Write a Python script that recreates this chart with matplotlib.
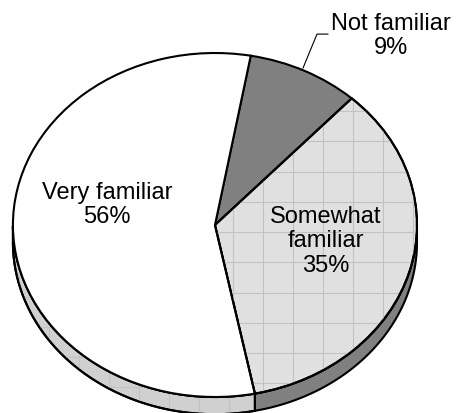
import matplotlib.pyplot as plt
from matplotlib.patches import PathPatch
import numpy as np

plt.rcParams['font.family'] = ['Liberation Sans', 'DejaVu Sans']

categories = ['Not familiar', 'Somewhat familiar', 'Very familiar']
label_text = ['Not familiar', 'Somewhat\nfamiliar', 'Very familiar']
percent = [9, 35, 56]
top_colors = ['#808080', '#e0e0e0', '#ffffff']
side_colors = ['#808080', '#808080', '#d0d0d0']

start = 79.8      # degrees, pie runs clockwise from here
depth = 0.1       # thickness of the pie edge
edge_lw = 1.5

fig = plt.figure(figsize=(4.57, 4.14), dpi=100)
ax = fig.add_axes([0, 0, 1, 1])

# side band of the disc (only the front half shows)
bounds = start - np.cumsum([0] + percent) * 3.6
side_patches = []
for i in range(len(percent)):
    th = np.radians(np.linspace(bounds[i], bounds[i + 1], 400))
    front = np.sin(th) <= 0
    if not front.any():
        side_patches.append(None)
        continue
    th = th[front]
    xs = np.cos(th)
    ys = np.sin(th)
    px = np.concatenate([xs, xs[::-1]])
    py = np.concatenate([ys, ys[::-1] - depth])
    poly = ax.fill(px, py, facecolor=side_colors[i], edgecolor='black',
                   linewidth=edge_lw, zorder=1)[0]
    side_patches.append(poly)

wedges, _ = ax.pie(percent, startangle=start, counterclock=False,
                   colors=top_colors, radius=1, center=(0, 0),
                   wedgeprops=dict(edgecolor='black', linewidth=edge_lw))
for w in wedges:
    w.set_zorder(2)

ax.set_aspect('auto')
ax.set_xlim(-1.064, 1.198)
ax.set_ylim(-1.093, 1.314)
ax.axis('off')

# light grid texture on the "somewhat" top and the "very" side
def grid_texture(patch, x0, y0):
    z = patch.get_zorder()
    gx = np.arange(x0 - 2.0, 2.0, 0.1485)
    gy = np.arange(y0 - 2.0, 2.0, 0.176)
    v = ax.vlines(gx, -2, 2, colors='#c2c2c2', linewidth=0.8, zorder=z)
    h = ax.hlines(gy, -2, 2, colors='#c2c2c2', linewidth=0.8, zorder=z)
    for ln in (v, h):
        ln.set_clip_path(patch)
    # outline again over the texture
    ax.add_patch(PathPatch(patch.get_path(), transform=patch.get_transform(),
                           fill=False, edgecolor='black', linewidth=edge_lw,
                           zorder=z + 0.1))

grid_texture(wedges[1], 0.158, 0.023)
if side_patches[2] is not None:
    grid_texture(side_patches[2], -0.01, 0.0)

# labels
ax.text(-0.535, 0.120, f'{label_text[2]}\n{percent[2]}%', ha='center', va='center',
        fontsize=17, linespacing=1.12, zorder=5)
ax.text(0.55, -0.090, f'{label_text[1]}\n{percent[1]}%', ha='center', va='center',
        fontsize=17, linespacing=1.12, zorder=5)
ax.text(0.873, 1.105, f'{label_text[0]}\n{percent[0]}%', ha='center', va='center',
        fontsize=17, linespacing=1.12, zorder=5)
ax.plot([0.436, 0.505, 0.559], [0.913, 1.110, 1.110], color='black', linewidth=0.8, zorder=5)

fig.savefig('out.png', dpi=100)
